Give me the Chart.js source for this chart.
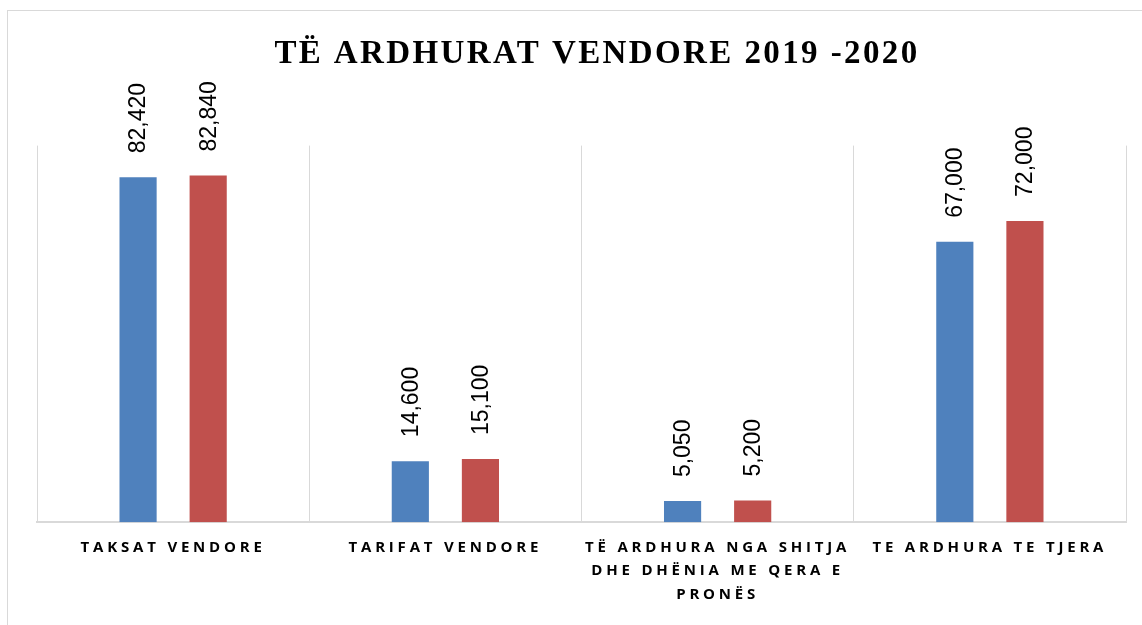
<!DOCTYPE html>
<html>
<head>
<meta charset="utf-8">
<script src="https://cdn.jsdelivr.net/npm/chart.js@4"></script>
<style>
  html, body { margin: 0; padding: 0; background: #fff; overflow: hidden; }
  .frame {
    position: absolute; left: 7px; top: 10px;
    width: 1182px; height: 640px;
    border: 1px solid #d9d9d9; box-sizing: border-box;
  }
  .frame canvas { position: absolute; left: 0; top: 0; }
</style>
</head>
<body>
<div class="frame">
  <canvas id="chartArdhurat" width="1180" height="620"></canvas>
</div>
<script>
const categories = [
  'TAKSAT VENDORE',
  'TARIFAT VENDORE',
  ['TË ARDHURA NGA SHITJA', 'DHE DHËNIA ME QERA E', 'PRONËS'],
  'TE ARDHURA TE TJERA'
];
const values2019 = [82420, 14600, 5050, 67000];
const values2020 = [82840, 15100, 5200, 72000];
const yMax = 90000;

// etiketat e vlerave, vertikale mbi shtyllat
const barLabels = {
  id: 'barLabels',
  beforeDraw(chart) {
    chart.ctx.letterSpacing = '2.4px'; // titulli
  },
  afterDatasetsDraw(chart) {
    const c = chart.ctx;
    c.save();
    c.letterSpacing = '0px';
    c.font = '23px "Liberation Sans", Arial, sans-serif';
    c.fillStyle = '#000';
    c.textAlign = 'left';
    c.textBaseline = 'middle';
    chart.data.datasets.forEach((ds, i) => {
      chart.getDatasetMeta(i).data.forEach((bar, j) => {
        const txt = ds.data[j].toLocaleString('en-US');
        c.save();
        c.translate(bar.x + 1, bar.y - 24);
        c.rotate(-Math.PI / 2);
        c.fillText(txt, 0, 0);
        c.restore();
      });
    });
    c.restore();
    c.letterSpacing = '3.8px'; // etiketat e kategorive (ticks z:1)
  },
  afterDraw(chart) {
    chart.ctx.letterSpacing = '0px';
  }
};

// boshti y fshihet, por mban hapesiren anash
const hiddenAxis = (pos, w) => ({
  display: true,
  position: pos,
  min: 0,
  max: yMax,
  grid: { display: false },
  border: { display: false },
  ticks: { display: false },
  afterFit(scale) { scale.width = w; }
});

const ctx = document.getElementById('chartArdhurat').getContext('2d');
new Chart(ctx, {
  type: 'bar',
  data: {
    labels: categories,
    datasets: [
      { label: '2019', data: values2019, backgroundColor: '#4F81BD' },
      { label: '2020', data: values2020, backgroundColor: '#C0504D' }
    ]
  },
  options: {
    responsive: false,
    animation: false,
    events: [],
    categoryPercentage: 0.515,
    barPercentage: 0.53,
    layout: { padding: { left: 0, right: 2, top: 0, bottom: 11 } },
    plugins: {
      legend: { display: false },
      tooltip: { enabled: false },
      title: {
        display: true,
        text: 'TË ARDHURAT VENDORE 2019 -2020',
        color: '#000',
        font: { family: '"Liberation Serif", "Times New Roman", serif', size: 33, weight: 'bold' },
        padding: { top: 24, bottom: 71 }
      }
    },
    scales: {
      x: {
        offset: true,
        grid: { offset: true, color: '#d9d9d9', drawTicks: false },
        border: { color: '#d9d9d9', width: 2 },
        ticks: {
          z: 1,
          color: '#000',
          maxRotation: 0, minRotation: 0, autoSkip: false,
          padding: 14,
          font: { family: '"Open Sans", sans-serif', size: 15, weight: 'bold', lineHeight: 1.55 }
        }
      },
      y: hiddenAxis('left', 29),
      y2: hiddenAxis('right', 60)
    }
  },
  plugins: [barLabels]
});
</script>
</body>
</html>
